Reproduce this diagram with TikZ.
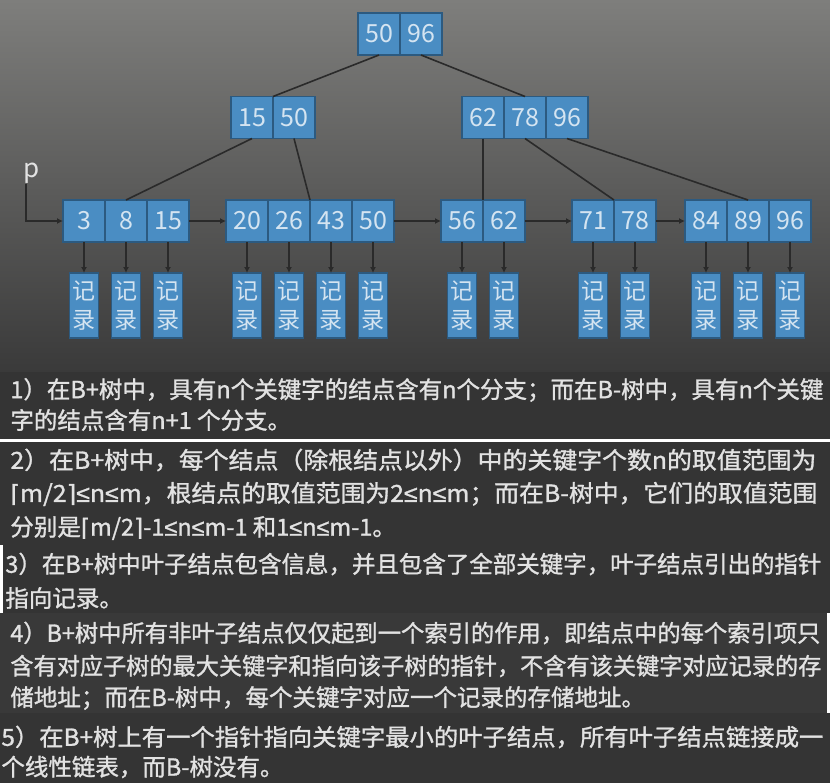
\documentclass[tikz,border=0pt]{standalone}
\usepackage{fontspec}
\usepackage{graphicx}
\usepackage{xcolor}
\usepackage{tikz}
\usetikzlibrary{arrows.meta, calc}
\newfontfamily\cjk{Noto Sans CJK SC}
\newfontfamily\cjkb[FakeBold=1.2]{Noto Sans CJK SC}
\newfontfamily\symf[FakeBold=1.2]{DejaVu Sans}
\newfontfamily\lsf[FakeBold=1.2]{Liberation Sans}
\newcommand{\fullline}[2]{\resizebox{#1}{\height}{#2}}
\definecolor{cellblue}{HTML}{4A8DC3}
\definecolor{cellline}{HTML}{2C5A80}
\definecolor{celltext}{HTML}{D4E4F1}
\definecolor{linegray}{HTML}{2A2A2A}
\definecolor{bgtop}{HTML}{7E7E7C}
\definecolor{bgbot}{HTML}{3A3A3A}
\definecolor{panelA}{HTML}{343434}
\definecolor{panelB}{HTML}{393939}
\definecolor{notetext}{HTML}{E2E2E2}

\begin{document}
\begin{tikzpicture}[
    x=0.5pt, y=-0.5pt,
    cell/.style={rectangle, draw=cellline, line width=0.6pt, fill=cellblue, minimum width=21pt, minimum height=21pt, inner sep=0pt, outer sep=0pt, text=celltext, font=\cjk\fontsize{12.5}{14}\selectfont},
    rec/.style={rectangle, draw=cellline, line width=0.6pt, fill=cellblue, minimum width=14.5pt, minimum height=32.5pt, inner sep=0pt, outer sep=0pt, text=celltext, align=center, font=\cjk\fontsize{11.5}{14.3}\selectfont},
    edge/.style={draw=linegray, line width=0.8pt},
    arrow/.style={draw=linegray, line width=0.8pt, -{Latex[length=3pt, width=3pt]}},
    note/.style={anchor=west, inner sep=0pt, text=notetext, font=\cjkb\fontsize{11.75}{14}\selectfont},
    plabel/.style={inner sep=0pt, text=notetext, font=\cjk\fontsize{13}{14}\selectfont},
]
\useasboundingbox (0,0) rectangle (830,783);

% --- backgrounds ---
\fill[white] (0,0) rectangle (830,783);
\shade[top color=bgtop, bottom color=bgbot] (0,0) rectangle (830,372);
\fill[panelA] (0,372) rectangle (830,439);
\fill[panelA] (0,442) rectangle (830,545);
\fill[panelA] (3,545) rectangle (830,613);
\fill[panelB] (0,613) rectangle (827,713);
\fill[panelA] (0,713) rectangle (830,783);

% --- root ---
\node[cell] (r1) at (379,34) {50};
\node[cell] (r2) at (421,34) {96};

% --- second level ---
\node[cell] (m1) at (252,117.5) {15};
\node[cell] (m2) at (294,117.5) {50};
\node[cell] (n1) at (483,117.5) {62};
\node[cell] (n2) at (525,117.5) {78};
\node[cell] (n3) at (567,117.5) {96};

% --- leaves ---
\node[cell] (a1) at (84,221) {3};
\node[cell] (a2) at (126,221) {8};
\node[cell] (a3) at (168,221) {15};
\node[cell] (b1) at (247,221) {20};
\node[cell] (b2) at (289,221) {26};
\node[cell] (b3) at (331,221) {43};
\node[cell] (b4) at (373,221) {50};
\node[cell] (c1) at (462,221) {56};
\node[cell] (c2) at (504,221) {62};
\node[cell] (d1) at (593,221) {71};
\node[cell] (d2) at (635,221) {78};
\node[cell] (e1) at (706,221) {84};
\node[cell] (e2) at (748,221) {89};
\node[cell] (e3) at (790,221) {96};

% --- tree edges ---
\draw[edge] (r1.south) -- (m1.north east);
\draw[edge] (r2.south) -- (n2.north);
\draw[edge] (m1.south) -- (a2.north);
\draw[edge] (m2.south) -- (b2.north east);
\draw[edge] (n1.south) -- (c1.north east);
\draw[edge] (n2.south) -- (d1.north east);
\draw[edge] (n3.south) -- (e2.north);

% --- leaf chain ---
\node[plabel] (p) at (32,173) {p};
\draw[arrow] ([xshift=-3pt]p.south) |- (a1.west);
\draw[arrow] (a3) -- (b1);
\draw[arrow] (b4) -- (c1);
\draw[arrow] (c2) -- (d1);
\draw[arrow] (d2) -- (e1);

% --- records ---
\node[rec] (ra1) at (84,305.5) {记\\录};
\node[rec] (ra2) at (126,305.5) {记\\录};
\node[rec] (ra3) at (168,305.5) {记\\录};
\node[rec] (rb1) at (247,305.5) {记\\录};
\node[rec] (rb2) at (289,305.5) {记\\录};
\node[rec] (rb3) at (331,305.5) {记\\录};
\node[rec] (rb4) at (373,305.5) {记\\录};
\node[rec] (rc1) at (462,305.5) {记\\录};
\node[rec] (rc2) at (504,305.5) {记\\录};
\node[rec] (rd1) at (593,305.5) {记\\录};
\node[rec] (rd2) at (635,305.5) {记\\录};
\node[rec] (re1) at (706,305.5) {记\\录};
\node[rec] (re2) at (748,305.5) {记\\录};
\node[rec] (re3) at (790,305.5) {记\\录};
\draw[arrow] (a1) -- (ra1);
\draw[arrow] (a2) -- (ra2);
\draw[arrow] (a3) -- (ra3);
\draw[arrow] (b1) -- (rb1);
\draw[arrow] (b2) -- (rb2);
\draw[arrow] (b3) -- (rb3);
\draw[arrow] (b4) -- (rb4);
\draw[arrow] (c1) -- (rc1);
\draw[arrow] (c2) -- (rc2);
\draw[arrow] (d1) -- (rd1);
\draw[arrow] (d2) -- (rd2);
\draw[arrow] (e1) -- (re1);
\draw[arrow] (e2) -- (re2);
\draw[arrow] (e3) -- (re3);

% --- notes (full lines fitted to the panel width) ---
\node[note] (t1a) at (10,390) {\fullline{406.5pt}{1）在B+树中，具有n个关键字的结点含有n个分支；而在B-树中，具有n个关键}};
\node[note] (t1b) at (10,420) {字的结点含有n+1 个分支。};
\node[note] (t2a) at (10,460) {\fullline{403pt}{2）在B+树中，每个结点（除根结点以外）中的关键字个数n的取值范围为}};
\node[note] (t2b) at (10,494) {\fullline{403.5pt}{{\symf ⌈}m/2{\symf ⌉}{\lsf ≤}n{\lsf ≤}m，根结点的取值范围为2{\lsf ≤}n{\lsf ≤}m；而在B-树中，它们的取值范围}};
\node[note] (t2c) at (10,528) {分别是{\symf ⌈}m/2{\symf ⌉}-1{\lsf ≤}n{\lsf ≤}m-1 和1{\lsf ≤}n{\lsf ≤}m-1。};
\node[note] (t3a) at (5,564) {\fullline{408pt}{3）在B+树中叶子结点包含信息，并且包含了全部关键字，叶子结点引出的指针}};
\node[note] (t3b) at (5,598) {指向记录。};
\node[note] (t4a) at (10,633) {\fullline{405pt}{4）B+树中所有非叶子结点仅仅起到一个索引的作用，即结点中的每个索引项只}};
\node[note] (t4b) at (10,666) {\fullline{405.5pt}{含有对应子树的最大关键字和指向该子树的指针，不含有该关键字对应记录的存}};
\node[note] (t4c) at (10,698) {储地址；而在B-树中，每个关键字对应一个记录的存储地址。};
\node[note] (t5a) at (1,737) {\fullline{411pt}{5）在B+树上有一个指针指向关键字最小的叶子结点，所有叶子结点链接成一}};
\node[note] (t5b) at (1,767) {个线性链表，而B-树没有。};

\end{tikzpicture}
\end{document}
